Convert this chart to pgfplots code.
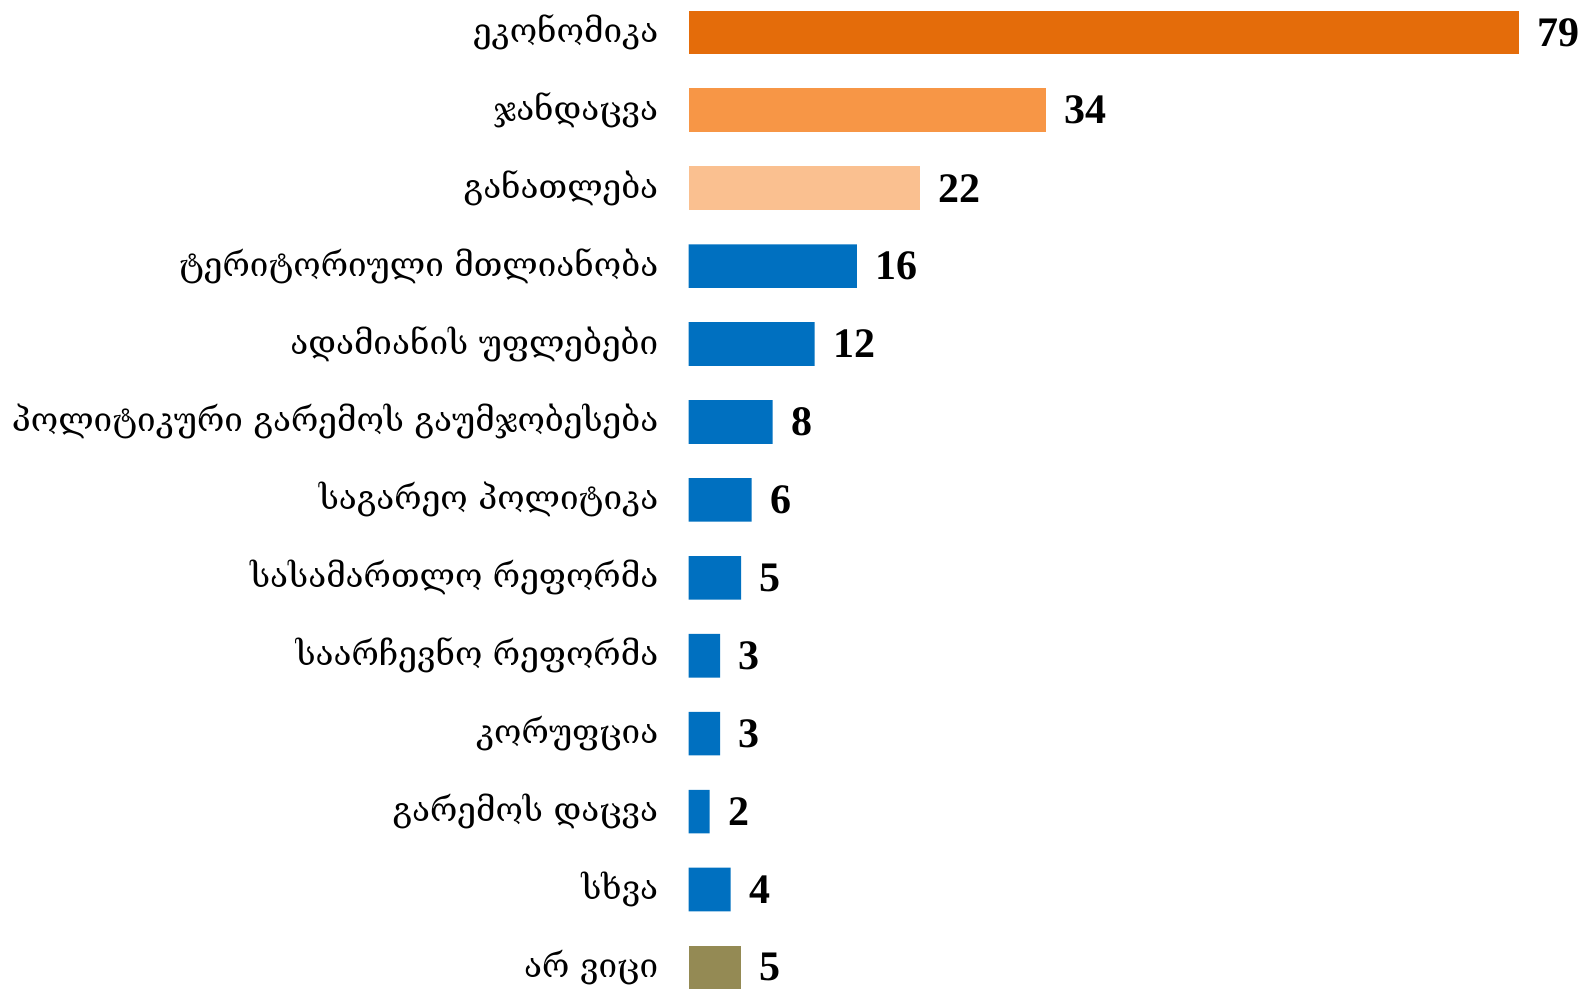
\documentclass[border={6pt 0pt 0pt 0pt}]{standalone}
\usepackage{fontspec}
\setmainfont{DejaVu Serif}
\newfontfamily\numfont{Liberation Serif}
\usepackage{pgfplots}
\pgfplotsset{compat=1.18}
\definecolor{cOrD}{HTML}{E46C0A}
\definecolor{cOrM}{HTML}{F79646}
\definecolor{cOrL}{HTML}{FAC090}
\definecolor{cBlue}{HTML}{0070C0}
\definecolor{cOlive}{HTML}{948A54}
\begin{document}
\begin{tikzpicture}
\begin{axis}[
  xbar, bar shift=0pt, bar width=21.8pt,
  x=5.253pt, y=38.95pt,
  xmin=0, xmax=85.2,
  ymin=-0.415, ymax=12.27,
  y dir=reverse,
  axis line style={draw=none},
  xtick=\empty,
  clip=false,
  ytick={0,...,12},
  yticklabels={ეკონომიკა, ჯანდაცვა, განათლება, ტერიტორიული მთლიანობა, ადამიანის უფლებები, პოლიტიკური გარემოს გაუმჯობესება, საგარეო პოლიტიკა, სასამართლო რეფორმა, საარჩევნო რეფორმა, კორუფცია, გარემოს დაცვა, სხვა, არ ვიცი},
  yticklabel style={font=\fontsize{16.6}{20}\selectfont, anchor=east, inner sep=0pt, xshift=-15pt},
  major tick length=0pt,
  ytick style={draw=none},
  /pgf/number format/assume math mode=true,
  nodes near coords,
  nodes near coords style={font=\numfont\bfseries\fontsize{21}{24}\selectfont, anchor=west, inner sep=0pt, xshift=9pt, text=black},
  every axis plot/.append style={draw=none},
]
\addplot[fill=cOrD] coordinates {(79,0)};
\addplot[fill=cOrM] coordinates {(34,1)};
\addplot[fill=cOrL] coordinates {(22,2)};
\addplot[fill=cBlue] coordinates {(16,3) (12,4) (8,5) (6,6) (5,7) (3,8) (3,9) (2,10) (4,11)};
\addplot[fill=cOlive] coordinates {(5,12)};
\end{axis}
\end{tikzpicture}
\end{document}
